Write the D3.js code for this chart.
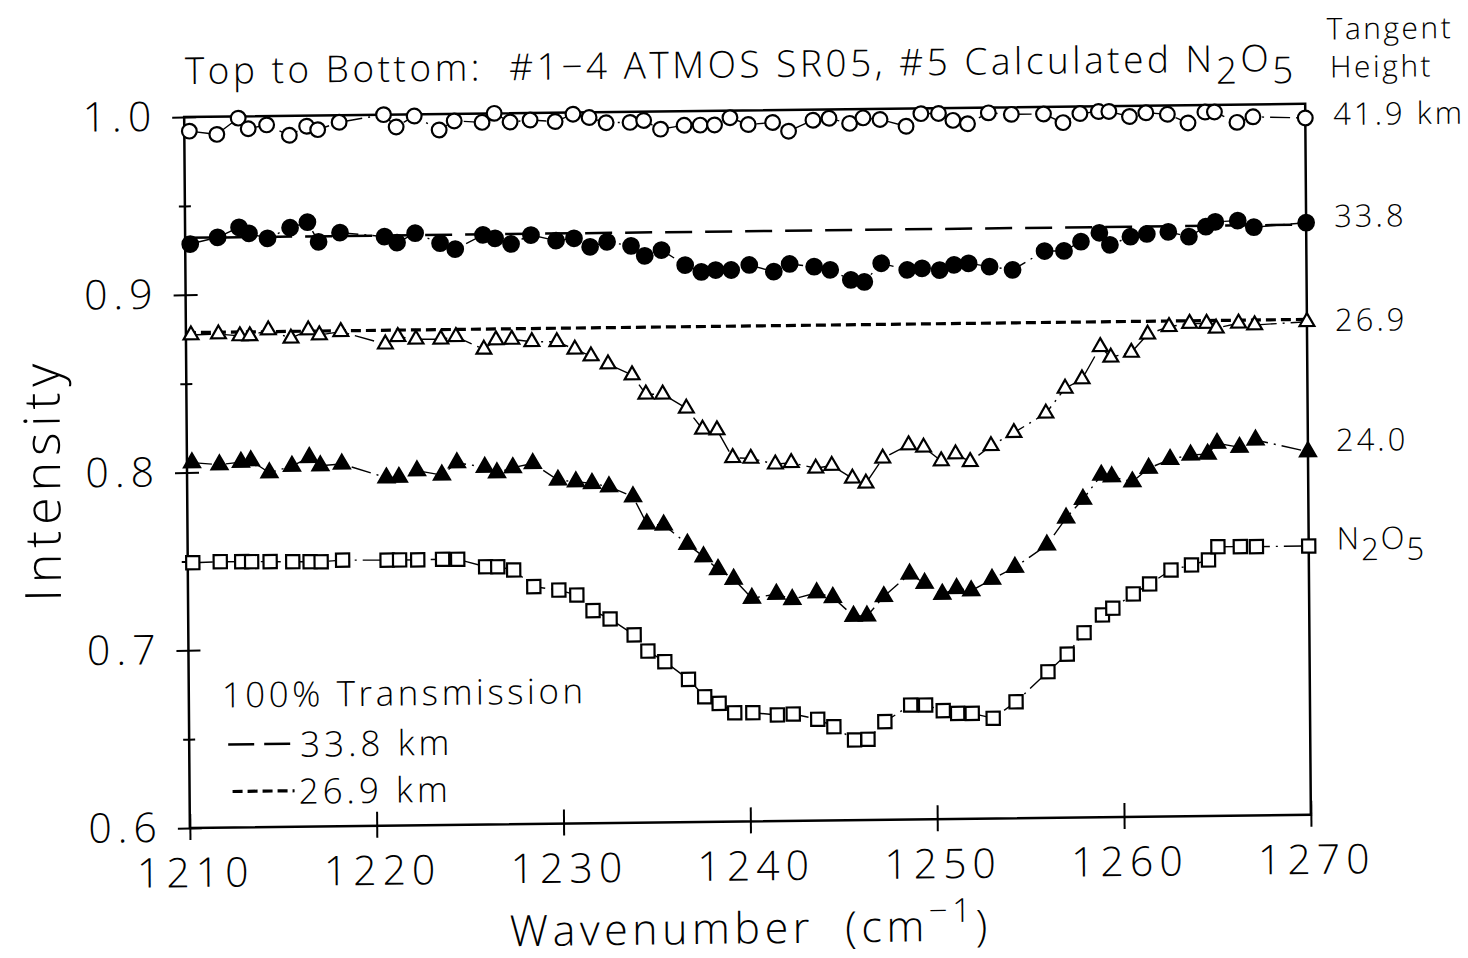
<!DOCTYPE html>
<html><head><meta charset="utf-8">
<script src="https://cdn.jsdelivr.net/npm/d3@7"></script>
<style>
html,body{margin:0;padding:0;background:#fff;}
svg{display:block;}
text{font-family:"Open Sans",sans-serif;font-weight:300;fill:#000;white-space:pre;}
</style></head><body>
<svg id="chart" width="1468" height="958"></svg>
<script>
// ---- data ----
const wavenumber = [1210.27,1211.74,1212.89,1213.42,1214.41,1215.62,1216.55,1217.14,1218.29,1220.67,1221.34,1222.31,1223.64,1224.45,1225.94,1226.59,1227.44,1228.51,1229.85,1230.81,1231.67,1232.58,1233.86,1234.59,1235.49,1236.75,1237.61,1238.38,1239.21,1240.18,1241.49,1242.34,1243.65,1244.51,1245.61,1246.33,1247.24,1248.63,1249.43,1250.37,1251.14,1251.92,1253.04,1254.27,1255.99,1257.03,1257.94,1258.93,1259.49,1260.59,1261.47,1262.62,1263.72,1264.63,1265.14,1266.34,1267.20,1270.0];
const th419 = [0.992,0.990,0.999,0.993,0.995,0.989,0.994,0.992,0.996,1.000,0.993,0.999,0.991,0.996,0.995,1.000,0.995,0.996,0.995,0.999,0.997,0.994,0.994,0.995,0.990,0.992,0.992,0.992,0.996,0.992,0.993,0.988,0.994,0.995,0.992,0.995,0.994,0.990,0.997,0.997,0.993,0.991,0.997,0.996,0.996,0.991,0.996,0.997,0.997,0.994,0.996,0.995,0.990,0.996,0.996,0.990,0.993,0.992];
const th338 = [0.9285,0.9321,0.9376,0.9341,0.9312,0.9370,0.9400,0.9289,0.9339,0.9314,0.9279,0.9331,0.9273,0.9239,0.9317,0.9297,0.9264,0.9313,0.9280,0.9292,0.9243,0.9270,0.9245,0.9188,0.9220,0.9134,0.9094,0.9104,0.9103,0.9130,0.9091,0.9133,0.9116,0.9097,0.9039,0.9027,0.9131,0.9092,0.9100,0.9089,0.9117,0.9125,0.9105,0.9085,0.9189,0.9188,0.9239,0.9288,0.9219,0.9264,0.9278,0.9289,0.9260,0.9315,0.9342,0.9347,0.9309,0.9331];
const th269 = [0.8773,0.8777,0.8765,0.8764,0.8796,0.8748,0.8793,0.8765,0.8782,0.8709,0.8750,0.8734,0.8733,0.8746,0.8673,0.8725,0.8727,0.8713,0.8711,0.8667,0.8628,0.8582,0.8519,0.8410,0.8409,0.8328,0.8209,0.8204,0.8047,0.8042,0.8008,0.8015,0.7982,0.7996,0.7923,0.7894,0.8034,0.8107,0.8093,0.8015,0.8053,0.8009,0.8097,0.8169,0.8276,0.8415,0.8466,0.8647,0.8587,0.8613,0.8714,0.8755,0.8772,0.8771,0.8743,0.8770,0.8759,0.8774];
const th240 = [0.8055,0.8042,0.8055,0.8062,0.7993,0.8029,0.8077,0.8029,0.8038,0.7957,0.7959,0.7995,0.7969,0.8037,0.8010,0.7978,0.8006,0.8028,0.7933,0.7922,0.7912,0.7892,0.7834,0.7680,0.7673,0.7564,0.7492,0.7420,0.7364,0.7255,0.7277,0.7246,0.7282,0.7255,0.7148,0.7148,0.7256,0.7381,0.7328,0.7266,0.7297,0.7283,0.7346,0.7412,0.7535,0.7686,0.7790,0.7925,0.7915,0.7885,0.7960,0.8009,0.8032,0.8036,0.8096,0.8072,0.8112,0.8043];
const calcN2O5 = [0.7492,0.7496,0.7495,0.7494,0.7493,0.7491,0.7490,0.7489,0.7497,0.7494,0.7494,0.7493,0.7495,0.7494,0.7450,0.7449,0.7430,0.7335,0.7314,0.7285,0.7196,0.7148,0.7057,0.6965,0.6904,0.6803,0.6704,0.6666,0.6612,0.6611,0.6597,0.6601,0.6570,0.6527,0.6451,0.6454,0.6552,0.6644,0.6643,0.6610,0.6594,0.6593,0.6564,0.6655,0.6822,0.6920,0.7039,0.7138,0.7175,0.7254,0.7309,0.7386,0.7413,0.7440,0.7514,0.7513,0.7512,0.7512];
const transmission338 = [0.932, 0.932];
const transmission269 = [0.8787, 0.8787];
const transmissionX = [1210, 1270];
const xTicks = [1210,1220,1230,1240,1250,1260,1270];
const yMajorTicks = [0.6,0.7,0.8,0.9,1.0];
const yMinorTicks = [0.65,0.75,0.85,0.95];

// ---- drawing ----
const svg = d3.select("#chart");
svg.append("rect").attr("width",1468).attr("height",958).attr("fill","#fff");
const k = 0.0118, m = 0.008; // slight scan tilt
const g = svg.append("g").attr("transform", `matrix(1,${-k},${m},1,${-470*m},${187*k})`);

const x = d3.scaleLinear().domain([1210,1270]).range([187,1308]);
const y = d3.scaleLinear().domain([0.6,1.0]).range([828,117]);

function styleAxis(sel, fs, ls){
  sel.select(".domain").remove();
  sel.selectAll(".tick line").attr("stroke","#000").attr("stroke-width",2);
  sel.selectAll("text").attr("font-family",'"Open Sans",sans-serif').attr("font-weight",300)
    .attr("font-size",fs).attr("letter-spacing",ls||0).attr("fill","#000");
}
// y axis
g.append("g").attr("transform",`translate(${x(1210)},0)`)
  .call(d3.axisLeft(y).tickValues(yMajorTicks).tickSize(12).tickPadding(15).tickFormat(d3.format(".1f")))
  .call(s=>styleAxis(s,41,6));
g.append("g").attr("transform",`translate(${x(1210)},0)`)
  .call(d3.axisRight(y).tickValues(yMajorTicks).tickSize(12).tickFormat(""))
  .call(s=>styleAxis(s,42));
g.append("g").attr("transform",`translate(${x(1210)},0)`)
  .call(d3.axisLeft(y).tickValues(yMinorTicks).tickSize(6).tickFormat(""))
  .call(s=>styleAxis(s,42));
g.append("g").attr("transform",`translate(${x(1210)},0)`)
  .call(d3.axisRight(y).tickValues(yMinorTicks).tickSize(6).tickFormat(""))
  .call(s=>styleAxis(s,42));
// x axis
g.append("g").attr("transform",`translate(0,${y(0.6)})`)
  .call(d3.axisBottom(x).tickValues(xTicks).tickSize(12).tickPadding(18).tickFormat(d3.format("d")))
  .call(s=>styleAxis(s,41,6))
  .call(s=>s.selectAll("text").attr("dx",5));
g.append("g").attr("transform",`translate(0,${y(0.6)})`)
  .call(d3.axisTop(x).tickValues(xTicks).tickSize(14).tickFormat(""))
  .call(s=>styleAxis(s,42));

// frame
g.append("rect").attr("x",x(1210)).attr("y",y(1.0)).attr("width",x(1270)-x(1210)).attr("height",y(0.6)-y(1.0))
  .attr("fill","none").attr("stroke","#000").attr("stroke-width",2.5);

// reference (100% transmission) lines
const refLine = d3.line().x((d,i)=>x(transmissionX[i])).y(d=>y(d));
g.append("path").attr("d",refLine(transmission338)).attr("fill","none").attr("stroke","#000").attr("stroke-width",2.5).attr("stroke-dasharray","27,13");
g.append("path").attr("d",refLine(transmission269)).attr("fill","none").attr("stroke","#000").attr("stroke-width",3.2).attr("stroke-dasharray","10,5");

// series
const series = [
  {vals: th419, type: d3.symbolCircle, size: 170, fill: "#fff"},
  {vals: th338, type: d3.symbolCircle, size: 190, fill: "#000"},
  {vals: th269, type: d3.symbolTriangle, size: 95, fill: "#fff"},
  {vals: th240, type: d3.symbolTriangle, size: 110, fill: "#000"},
  {vals: calcN2O5, type: d3.symbolSquare, size: 175, fill: "#fff"}
];
const line = d3.line().x((d,i)=>x(wavenumber[i])).y(d=>y(d));
series.forEach(s=>{
  g.append("path").attr("d",line(s.vals)).attr("fill","none").attr("stroke","#000")
    .attr("stroke-width",1.4).attr("stroke-dasharray","20,6,2,6");
});
series.forEach(s=>{
  g.append("g").selectAll("path").data(s.vals).join("path")
    .attr("transform",(d,i)=>`translate(${x(wavenumber[i])},${y(d)})`)
    .attr("d",d3.symbol().type(s.type).size(s.size))
    .attr("fill",s.fill).attr("stroke","#000").attr("stroke-width",2.2);
});

// right-side labels
const rl = g.append("g");
rl.append("text").attr("x",1330).attr("y",53).attr("font-size",30).attr("letter-spacing",2.5).text("Tangent");
rl.append("text").attr("x",1333).attr("y",91).attr("font-size",30).attr("letter-spacing",2.5).text("Height");
const rightLabels = [["41.9 km",127.5],["33.8",229.5],["26.9",333.5],["24.0",453.5]];
rightLabels.forEach(([t,yy])=>{
  rl.append("text").attr("x",1336).attr("y",yy).attr("dy","0.36em").attr("font-size",31).attr("letter-spacing",3).text(t);
});
const n2 = rl.append("text").attr("x",1336).attr("y",552).attr("dy","0.36em").attr("font-size",31).attr("letter-spacing",2);
n2.append("tspan").text("N");
n2.append("tspan").attr("dy",11).text("2");
n2.append("tspan").attr("dy",-11).text("O");
n2.append("tspan").attr("dy",11).text("5");

// title
const tt = g.append("text").attr("x",188).attr("y",84).attr("font-size",37).attr("letter-spacing",3.5);
tt.append("tspan").text("Top to Bottom:  #1\u22124 ATMOS SR05, #5 Calculated N");
tt.append("tspan").attr("dy",12).text("2");
tt.append("tspan").attr("dy",-12).text("O");
tt.append("tspan").attr("dy",12).text("5");

// axis titles
g.append("text").attr("transform","translate(60,478) rotate(-90)").attr("text-anchor","middle")
  .attr("font-size",50).attr("letter-spacing",6).text("Intensity");
const xt = g.append("text").attr("x",506).attr("y",950).attr("font-size",43).attr("letter-spacing",4.5);
xt.append("tspan").text("Wavenumber  (cm");
xt.append("tspan").attr("dy",-19).attr("font-size",33).text("\u22121");
xt.append("tspan").attr("dy",19).text(")");

// legend
g.append("text").attr("x",220).attr("y",708).attr("font-size",35).attr("letter-spacing",3.5).text("100% Transmission");
g.append("line").attr("x1",226).attr("x2",292).attr("y1",745).attr("y2",745).attr("stroke","#000").attr("stroke-width",2.5).attr("stroke-dasharray","26,10");
g.append("text").attr("x",298).attr("y",758).attr("font-size",35).attr("letter-spacing",4).text("33.8 km");
g.append("line").attr("x1",230).attr("x2",292).attr("y1",792).attr("y2",792).attr("stroke","#000").attr("stroke-width",3.2).attr("stroke-dasharray","10,5");
g.append("text").attr("x",296).attr("y",805).attr("font-size",35).attr("letter-spacing",4).text("26.9 km");
</script>
</body></html>
